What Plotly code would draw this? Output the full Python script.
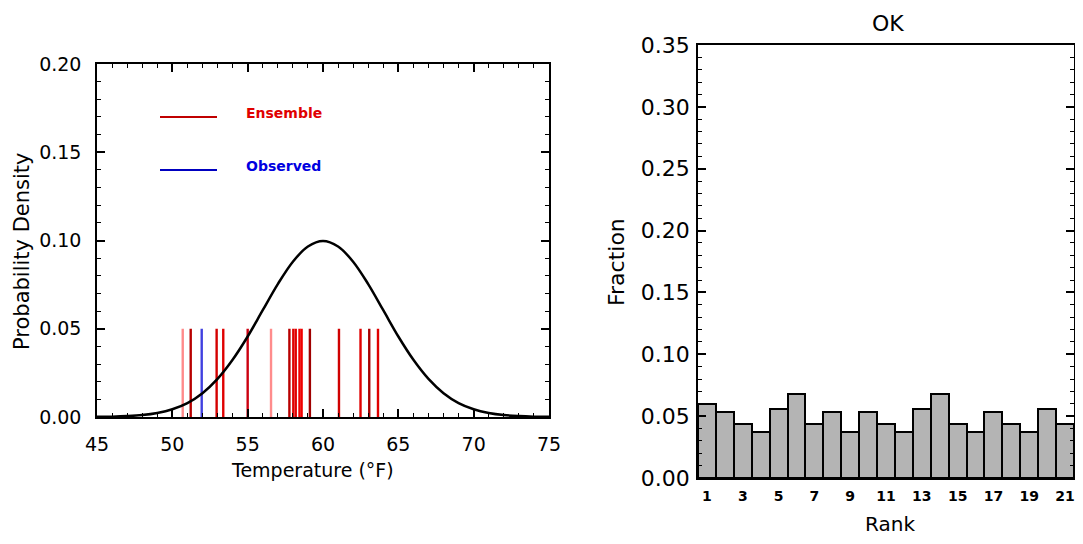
import plotly.graph_objects as go

# ---------------- data ----------------
# Fitted PDF curve (Temperature °F -> density)
curve_temp = [45, 46, 47, 48, 49, 50, 51, 52, 53, 54, 55, 56, 57, 58, 59, 60,
              61, 62, 63, 64, 65, 66, 67, 68, 69, 70, 71, 72, 73, 74, 75]
curve_density = [0.0001, 0.0002, 0.0005, 0.0011, 0.0023, 0.0044, 0.0079, 0.0135,
                 0.0216, 0.0324, 0.0456, 0.0605, 0.0753, 0.0880, 0.0966, 0.0997,
                 0.0966, 0.0880, 0.0753, 0.0605, 0.0456, 0.0324, 0.0216, 0.0135,
                 0.0079, 0.0044, 0.0023, 0.0011, 0.0005, 0.0002, 0.0001]

# Ensemble member temperatures (°F)
ensemble_temps = [50.69, 51.22, 52.94, 53.38, 55.00, 56.55, 57.77, 58.03,
                  58.19, 58.44, 58.58, 59.13, 61.06, 62.49, 63.07, 63.65]
# Observed temperature (°F)
observed_temp = [51.95]

# Rank histogram
ranks = list(range(1, 22))
fractions = [0.060, 0.053, 0.044, 0.037, 0.056, 0.068, 0.044, 0.053, 0.037,
             0.053, 0.044, 0.037, 0.056, 0.068, 0.044, 0.037, 0.053, 0.044,
             0.037, 0.056, 0.044]
rank_ticks = [1, 3, 5, 7, 9, 11, 13, 15, 17, 19, 21]

# ---------------- style ----------------
OFF = 8  # page body margin offset
W, H = 1083 - 2 * OFF, 544 - 2 * OFF
STICK_HEIGHT = 0.05
member_colors = ["#ff8a8a", "#b80000", "#d40000", "#e00000", "#cc0010", "#ff8c8c",
                 "#b80000", "#e00000", "#e00000", "#f00000", "#f00000", "#a00000",
                 "#d00000", "#e00000", "#a80000", "#e00000"]
FONT = "DejaVu Sans"


def px(x):
    return min(1.0, max(0.0, (x - OFF) / W))


def py(y):
    return 1 - (y - OFF) / H


fig = go.Figure()

# ensemble sticks
for t, c in zip(ensemble_temps, member_colors):
    fig.add_trace(go.Scatter(x=[t, t], y=[0, STICK_HEIGHT], mode="lines",
                             line=dict(color=c, width=2.4), showlegend=False,
                             xaxis="x", yaxis="y", hoverinfo="skip"))
for t in observed_temp:
    fig.add_trace(go.Scatter(x=[t, t], y=[0, STICK_HEIGHT], mode="lines",
                             line=dict(color="#4040e0", width=2.4), showlegend=False,
                             xaxis="x", yaxis="y"))

# PDF curve
fig.add_trace(go.Scatter(x=curve_temp, y=curve_density, mode="lines",
                         line=dict(color="black", width=2.5, shape="spline"),
                         showlegend=False, xaxis="x", yaxis="y"))

# rank histogram
fig.add_trace(go.Bar(x=ranks, y=fractions, width=1,
                     marker=dict(color="#b4b4b4", line=dict(color="black", width=2)),
                     showlegend=False, xaxis="x2", yaxis="y2"))


def axis_style(fontsize):
    return dict(showline=True, linecolor="black", linewidth=1.5, mirror="allticks",
                ticks="inside", ticklen=8, tickwidth=1.5, tickcolor="black",
                showgrid=False, zeroline=False, automargin=False,
                tickfont=dict(family=FONT, size=fontsize, color="black"))


fig.update_layout(
    width=W, height=H,
    paper_bgcolor="white", plot_bgcolor="white",
    margin=dict(l=0, r=0, t=0, b=0, pad=0, autoexpand=False),
    bargap=0,
    xaxis=dict(domain=[px(97), px(549)], range=[45, 75], anchor="y",
               tickvals=[45, 50, 55, 60, 65, 70, 75], ticklabelstandoff=9,
               minor=dict(dtick=1, ticks="inside", ticklen=4, tickcolor="black", tickwidth=1),
               **axis_style(19)),
    yaxis=dict(domain=[py(417), py(64)], range=[0, 0.2], anchor="x",
               tickvals=[0, 0.05, 0.10, 0.15, 0.20], tickformat=".2f", ticklabelstandoff=10,
               minor=dict(dtick=0.01, ticks="inside", ticklen=4, tickcolor="black", tickwidth=1),
               **axis_style(19)),
    xaxis2=dict(domain=[px(698), px(1074)], range=[0.5, 21.5], anchor="y2",
                showline=True, linecolor="black", linewidth=1.5, mirror=True,
                ticks="", showgrid=False, zeroline=False, automargin=False,
                tickvals=rank_ticks, ticklabelstandoff=4,
                tickfont=dict(family=FONT, size=14, color="black", weight="bold")),
    yaxis2=dict(domain=[py(478), py(45)], range=[0, 0.35], anchor="x2",
                tickvals=[0, 0.05, 0.10, 0.15, 0.20, 0.25, 0.30, 0.35], tickformat=".2f",
                ticklabelstandoff=2,
                minor=dict(dtick=0.01, ticks="inside", ticklen=4, tickcolor="black", tickwidth=1),
                **axis_style(22)),
)

# legend (manual)
fig.add_shape(type="line", xref="paper", yref="paper", x0=px(160), x1=px(217),
              y0=py(117), y1=py(117), line=dict(color="#c00000", width=2))
fig.add_shape(type="line", xref="paper", yref="paper", x0=px(160), x1=px(217),
              y0=py(170), y1=py(170), line=dict(color="#0000c0", width=2))

annos = [
    dict(text="Ensemble", x=px(244), y=py(113), xanchor="left", yanchor="middle",
         font=dict(family=FONT, size=14, color="#e00000", weight="bold")),
    dict(text="Observed", x=px(244), y=py(166), xanchor="left", yanchor="middle",
         font=dict(family=FONT, size=14, color="#0000e0", weight="bold")),
    dict(text="Temperature (°F)", x=px(312), y=py(470), xanchor="center", yanchor="middle",
         font=dict(family=FONT, size=19, color="black")),
    dict(text="Probability Density", x=px(22), y=py(251), xanchor="center", yanchor="middle",
         textangle=-90, font=dict(family=FONT, size=21, color="black")),
    dict(text="Fraction", x=px(616), y=py(262), xanchor="center", yanchor="middle",
         textangle=-90, font=dict(family=FONT, size=22, color="black")),
    dict(text="Rank", x=px(890), y=py(524), xanchor="center", yanchor="middle",
         font=dict(family=FONT, size=20, color="black")),
    dict(text="OK", x=px(888), y=py(24), xanchor="center", yanchor="middle",
         font=dict(family=FONT, size=22, color="black")),
]
for a in annos:
    fig.add_annotation(xref="paper", yref="paper", showarrow=False, **a)

fig.write_html("out.html")
